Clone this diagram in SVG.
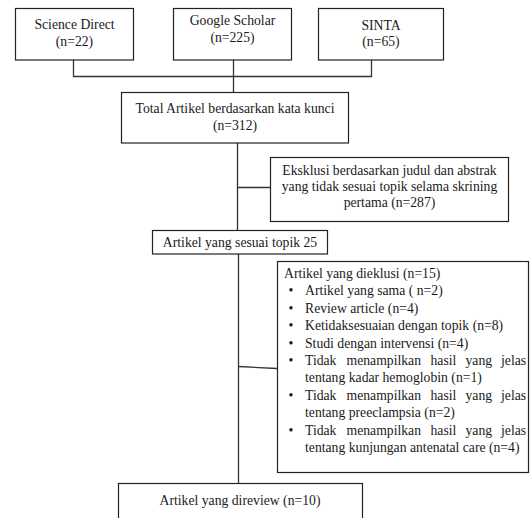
<svg xmlns="http://www.w3.org/2000/svg" width="530" height="518" viewBox="0 0 530 518">
<style>
  .box { fill: #ffffff; stroke: #222222; stroke-width: 1.2; }
  .ln { fill: none; stroke: #333333; stroke-width: 1.3; }
  text { font-family: "Liberation Serif", "Times New Roman", serif; font-size: 13.7px; fill: #1a1a1a; }
  .c { text-anchor: middle; }
</style>
<rect x="0" y="0" width="530" height="518" fill="#ffffff"/>
<g id="connectors">
  <path class="ln" d="M73.5 60 V76.5 H371.5 V60"/>
  <path class="ln" d="M233.5 60 V92"/>
  <path class="ln" d="M237.5 143 V230"/>
  <path class="ln" d="M237.5 187.5 H270"/>
  <path class="ln" d="M238.5 254 V483"/>
  <path class="ln" d="M238.5 366.5 L277 368.5"/>
</g>
<g id="science-direct">
  <rect class="box" x="15.5" y="8.5" width="118" height="51.5"/>
  <text class="c" x="74.5" y="29">Science Direct</text>
  <text class="c" x="74.5" y="45.5">(n=22)</text>
</g>
<g id="google-scholar">
  <rect class="box" x="173.5" y="8.5" width="118" height="51.5"/>
  <text class="c" x="232.5" y="25">Google Scholar</text>
  <text class="c" x="232.5" y="41.5">(n=225)</text>
</g>
<g id="sinta">
  <rect class="box" x="318.5" y="8.5" width="125" height="51.5"/>
  <text class="c" x="381" y="29.5">SINTA</text>
  <text class="c" x="381" y="46">(n=65)</text>
</g>
<g id="total">
  <rect class="box" x="121.5" y="92.5" width="227" height="50.5"/>
  <text class="c" x="235" y="113">Total Artikel berdasarkan kata kunci</text>
  <text class="c" x="235" y="130">(n=312)</text>
</g>
<g id="eksklusi">
  <rect class="box" x="270.5" y="157.5" width="238" height="64"/>
  <text class="c" x="389.5" y="175">Eksklusi berdasarkan judul dan abstrak</text>
  <text class="c" x="389.5" y="191">yang tidak sesuai topik selama skrining</text>
  <text class="c" x="389.5" y="207">pertama (n=287)</text>
</g>
<g id="sesuai">
  <rect class="box" x="152.5" y="230.5" width="175" height="23.5"/>
  <text class="c" x="240" y="246.5">Artikel yang sesuai topik 25</text>
</g>
<g id="dieklusi">
  <rect class="box" x="277.5" y="261.5" width="251" height="211"/>
  <text x="284" y="278">Artikel yang dieklusi (n=15)</text>
  <text class="c" x="291" y="295.4">•</text>
  <text x="305" y="295.4">Artikel yang sama ( n=2)</text>
  <text class="c" x="291" y="312.8">•</text>
  <text x="305" y="312.8">Review article (n=4)</text>
  <text class="c" x="291" y="330.2">•</text>
  <text x="305" y="330.2">Ketidaksesuaian dengan topik (n=8)</text>
  <text class="c" x="291" y="347.6">•</text>
  <text x="305" y="347.6">Studi dengan intervensi (n=4)</text>
  <text class="c" x="291" y="365">•</text>
  <text y="365"><tspan x="305">Tidak</tspan><tspan x="346.5">menampilkan</tspan><tspan x="430.5">hasil</tspan><tspan x="465.5">yang</tspan><tspan x="501">jelas</tspan></text>
  <text x="305" y="382.4">tentang kadar hemoglobin (n=1)</text>
  <text class="c" x="291" y="399.8">•</text>
  <text y="399.8"><tspan x="305">Tidak</tspan><tspan x="346.5">menampilkan</tspan><tspan x="430.5">hasil</tspan><tspan x="465.5">yang</tspan><tspan x="501">jelas</tspan></text>
  <text x="305" y="417.2">tentang preeclampsia (n=2)</text>
  <text class="c" x="291" y="434.6">•</text>
  <text y="434.6"><tspan x="305">Tidak</tspan><tspan x="346.5">menampilkan</tspan><tspan x="430.5">hasil</tspan><tspan x="465.5">yang</tspan><tspan x="501">jelas</tspan></text>
  <text x="305" y="452">tentang kunjungan antenatal care (n=4)</text>
</g>
<g id="direview">
  <rect class="box" x="118.5" y="483.5" width="244" height="40"/>
  <text class="c" x="240" y="505">Artikel yang direview (n=10)</text>
</g>
</svg>
